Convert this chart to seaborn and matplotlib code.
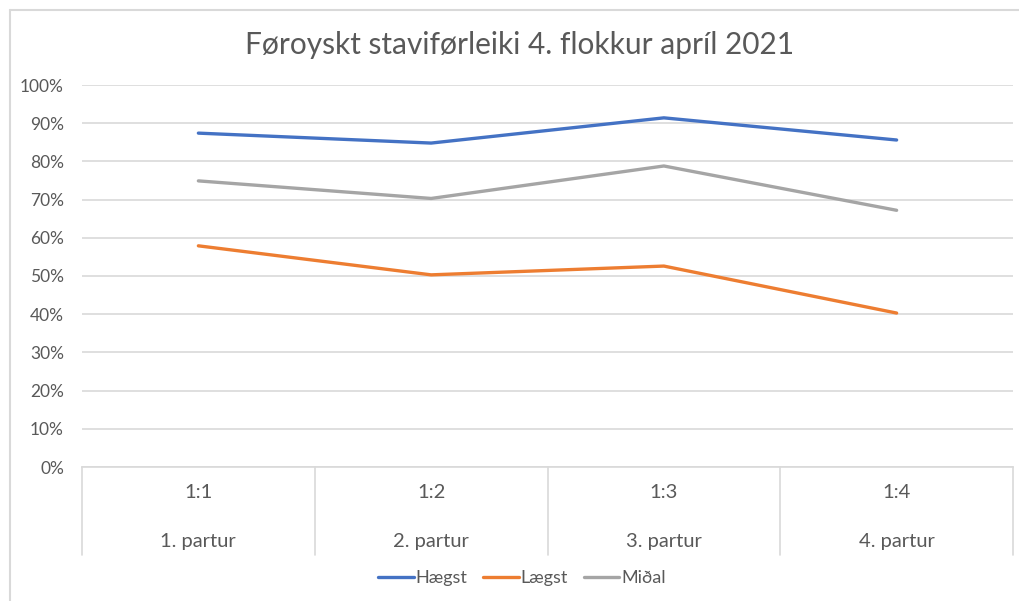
import matplotlib
matplotlib.use("Agg")
import matplotlib.pyplot as plt
import matplotlib.transforms as mtransforms
import pandas as pd
import seaborn as sns

# --- data ---
sub_labels = ["1:1", "1:2", "1:3", "1:4"]
part_labels = ["1. partur", "2. partur", "3. partur", "4. partur"]
haegst = [0.874, 0.848, 0.914, 0.856]
laegst = [0.579, 0.503, 0.526, 0.403]
midal = [0.749, 0.703, 0.788, 0.672]
series_names = ["Hægst", "Lægst", "Miðal"]
colors = ["#4472C4", "#ED7D31", "#A5A5A5"]

rows = []
for name, vals in zip(series_names, [haegst, laegst, midal]):
    for i, v in enumerate(vals):
        rows.append({"pos": i, "value": v, "series": name})
df = pd.DataFrame(rows)

sns.set_style("white")
plt.rcParams["font.family"] = ["Lato", "DejaVu Sans"]
text_color = "#595959"
grid_color = "#D9D9D9"

fig = plt.figure(figsize=(10.19, 6.01), dpi=100)
ax = fig.add_axes([82 / 1019, (601 - 467) / 601, 931 / 1019, (467 - 85) / 601])

sns.lineplot(data=df, x="pos", y="value", hue="series", palette=colors,
             hue_order=series_names, linewidth=2.4, ax=ax, legend=False,
             solid_capstyle="round")

ax.set_xlim(-0.5, len(sub_labels) - 0.5)
ax.set_ylim(0, 1)
ax.set_yticks([i / 10 for i in range(11)])
ax.set_yticklabels([f"{i * 10}%" for i in range(11)])
ax.yaxis.grid(True, color=grid_color, linewidth=1.2)
ax.set_axisbelow(True)
for s in ["top", "right", "left"]:
    ax.spines[s].set_visible(False)
ax.spines["bottom"].set_color(grid_color)
ax.spines["bottom"].set_linewidth(1.2)
ax.tick_params(axis="y", length=0, pad=13, labelsize=12.5, labelcolor=text_color)
ax.set_xticks([])
ax.set_xlabel("")
ax.set_ylabel("")

# multi-level category axis
trans = mtransforms.blended_transform_factory(ax.transData, ax.transAxes)
for i in range(len(sub_labels) + 1):
    ax.plot([i - 0.5, i - 0.5], [0, -88 / 382], transform=trans, color=grid_color,
            linewidth=1.2, clip_on=False)
for i, (a, b) in enumerate(zip(sub_labels, part_labels)):
    ax.text(i, -25 / 382, a, transform=trans, ha="center", va="center",
            fontsize=14.5, color=text_color)
    ax.text(i, -74 / 382, b, transform=trans, ha="center", va="center",
            fontsize=14.5, color=text_color)

# title is centred on the whole chart, not on the plot area
fig.text(520 / 1019, 1 - 45 / 601, "Føroyskt staviførleiki 4. flokkur apríl 2021",
         ha="center", va="center", fontsize=21.5, color=text_color)

handles = [plt.Line2D([0], [0], color=c, linewidth=2.4) for c in colors]
fig.legend(handles, series_names, loc="center", bbox_to_anchor=(522 / 1019, 1 - 578 / 601),
           ncol=3, frameon=False, fontsize=13, handlelength=1.95, handletextpad=0.1,
           columnspacing=0.9, labelcolor=text_color)

# chart frame (only top and left edges are inside the cropped image)
fx, fy = 10 / 1019, 1 - 9.5 / 601
fig.add_artist(plt.Line2D([fx, 1], [fy, fy], transform=fig.transFigure,
                          color=grid_color, linewidth=1.5))
fig.add_artist(plt.Line2D([fx, fx], [0, fy], transform=fig.transFigure,
                          color=grid_color, linewidth=1.5))

fig.savefig("out.png", dpi=100, facecolor="white")
